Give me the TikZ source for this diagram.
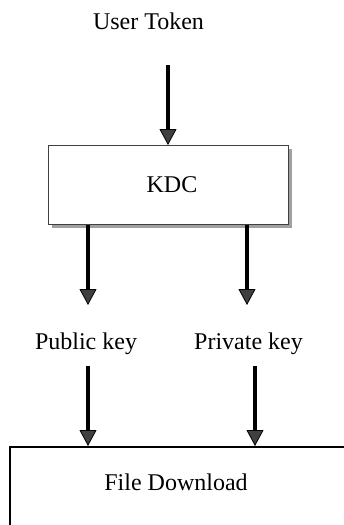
\documentclass[tikz,border=0pt]{standalone}
\usepackage{fontspec}
\setmainfont{Liberation Serif}
\usetikzlibrary{arrows.meta}
\definecolor{tipgray}{HTML}{404040}
\definecolor{shadowgray}{HTML}{A0A0A0}
\tikzset{
  label text/.style={font=\fontsize{24}{28}\selectfont, inner sep=0pt, anchor=base},
  flow/.style={line width=3.6pt, -{Triangle[width=17pt,length=16pt,fill=tipgray,line width=0.8pt]}},
}
\begin{document}
\begin{tikzpicture}[x=1pt,y=-1pt]
  \useasboundingbox (0,0) rectangle (343,525);

  % KDC box with drop shadow
  \fill[shadowgray] (52,149) rectangle (292,228);
  \node[draw=black!75, line width=1.2pt, fill=white, minimum width=240pt, minimum height=79pt,
        anchor=north west] (kdc) at (48,145) {};
  \node[label text] (kdctext) at (172,192) {KDC};

  % File download box, running off the page
  \draw[line width=2.2pt] (10,540) -- (10,447) -- (360,447);
  \node[label text] (fdtext) at (176,490) {File Download};

  % Labels
  \node[label text] (user) at (148.5,29) {User Token};
  \node[label text] (pub) at (86,349) {Public key};
  \node[label text] (priv) at (248.5,349) {Private key};

  % Arrow ends
  \coordinate (a1) at (168,65);
  \coordinate (b1) at (88,305);
  \coordinate (b2) at (247,305);
  \coordinate (c1) at (88,366);
  \coordinate (c2) at (255,366);
  \coordinate (d1) at (88,446);
  \coordinate (d2) at (255,446);

  \draw[flow] (a1) -- (a1 |- kdc.north);
  \draw[flow] (b1 |- kdc.south) -- (b1);
  \draw[flow] (b2 |- kdc.south) -- (b2);
  \draw[flow] (c1) -- (d1);
  \draw[flow] (c2) -- (d2);
\end{tikzpicture}
\end{document}
